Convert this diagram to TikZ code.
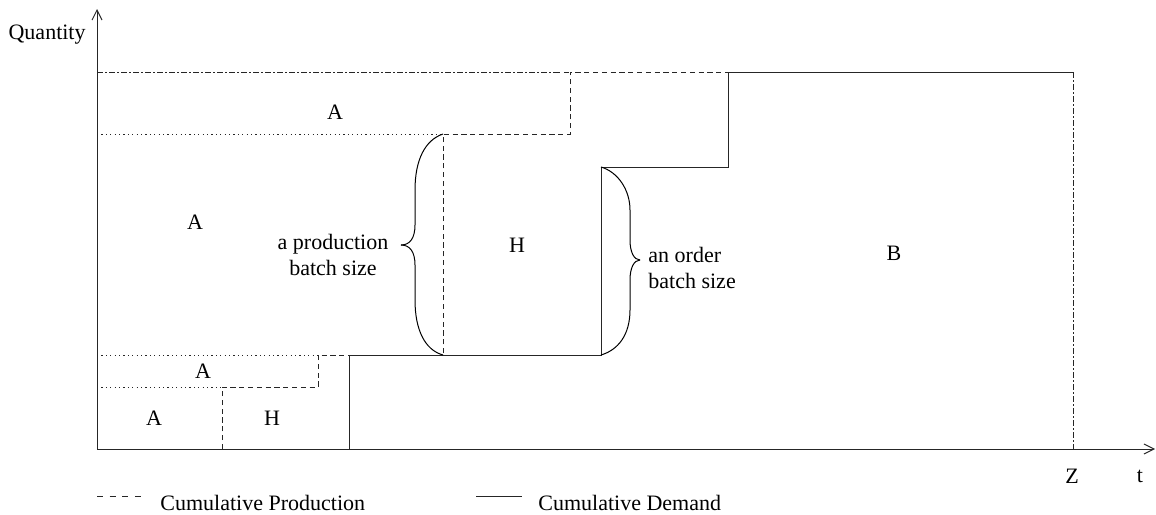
\documentclass[tikz,border=0pt]{standalone}
\usepackage{fontspec}
\setmainfont{Liberation Serif}
\usetikzlibrary{arrows.meta}
\begin{document}
\begin{tikzpicture}[x=0.5pt,y=-0.5pt,
  every node/.style={font=\fontsize{11}{13}\selectfont, inner sep=0pt},
  base/.style={line width=0.5pt, draw=black!85},
  prod/.style={base, dash pattern=on 2.6pt off 1.8pt},
  legprod/.style={base, dash pattern=on 3pt off 3.3pt},
  dem/.style={base},
  guide/.style={base, dash pattern=on 0.6pt off 1.6pt},
  bound/.style={base, dash pattern=on 3pt off 1.2pt on 0.6pt off 1.2pt},
  axis/.style={base, -{Straight Barb[length=5pt,width=5pt]}},
  brace/.style={line width=0.5pt, draw=black}]
\useasboundingbox (0,0) rectangle (1156,514);
% axes
\coordinate (O) at (97,449);
\coordinate (ytop) at (97,9);
\coordinate (xend) at (1155,449);
\draw[axis] (O) -- (ytop);
\draw[axis] (O) -- (xend);
\node[anchor=east] (qty) at (86,35) {Quantity};
\node (z) at (1072,476) {Z};
\node (t) at (1140,476) {t};
% guide lines (dotted)
\draw[guide] (97,387) -- (222,387);
\draw[guide] (97,355) -- (318,355);
\draw[guide] (97,134) -- (443,134);
% dash-dot bounds
\draw[bound] (97,72) -- (555,72);
\draw[bound] (1073,72) -- (1073,449);
% cumulative production (dashed)
\draw[prod] (222,449) -- (222,387) -- (318,387) -- (318,355) -- (443,355)
  -- (443,134) -- (570,134) -- (570,72) -- (1073,72);
\draw[prod] (555,72) -- (570,72);
% cumulative demand (solid)
\draw[dem] (349,449) -- (349,355) -- (601,355) -- (601,167) -- (728,167)
  -- (728,72) -- (1073,72);
% production brace
\draw[brace] (443,134) .. controls (425,140) and (415,160) .. (415,190) -- (415,225)
  .. controls (415,238) and (410,245) .. (401,245);
\draw[brace] (401,245) .. controls (410,245) and (415,252) .. (415,265) -- (415,300)
  .. controls (415,330) and (425,350) .. (443,355);
% order brace
\draw[brace] (601,167) .. controls (618,172) and (630,190) .. (630,210) -- (630,240)
  .. controls (630,252) and (634,260) .. (640,260);
\draw[brace] (640,260) .. controls (634,260) and (630,268) .. (630,280) -- (630,310)
  .. controls (630,335) and (618,350) .. (601,355);
% region labels
\node (a1) at (335,112) {A};
\node (a2) at (195,222) {A};
\node (h1) at (517,245) {H};
\node (b1) at (894,253) {B};
\node (a3) at (203,371) {A};
\node (a4) at (154,418) {A};
\node (h2) at (272,418) {H};
\node[align=center, font=\fontsize{11}{13}\selectfont] (pbs) at (333,255) {a production\\batch size};
\node[align=left, anchor=west, font=\fontsize{11}{13}\selectfont] (obs) at (648,268) {an order\\batch size};
% legend
\coordinate (lp1) at (97,496);
\coordinate (lp2) at (143,496);
\draw[legprod] (lp1) -- (lp2);
\node[anchor=base west] (lpt) at (160,510) {Cumulative Production};
\coordinate (ld1) at (476,496);
\coordinate (ld2) at (522,496);
\draw[dem] (ld1) -- (ld2);
\node[anchor=base west] (ldt) at (538,510) {Cumulative Demand};
\end{tikzpicture}
\end{document}
